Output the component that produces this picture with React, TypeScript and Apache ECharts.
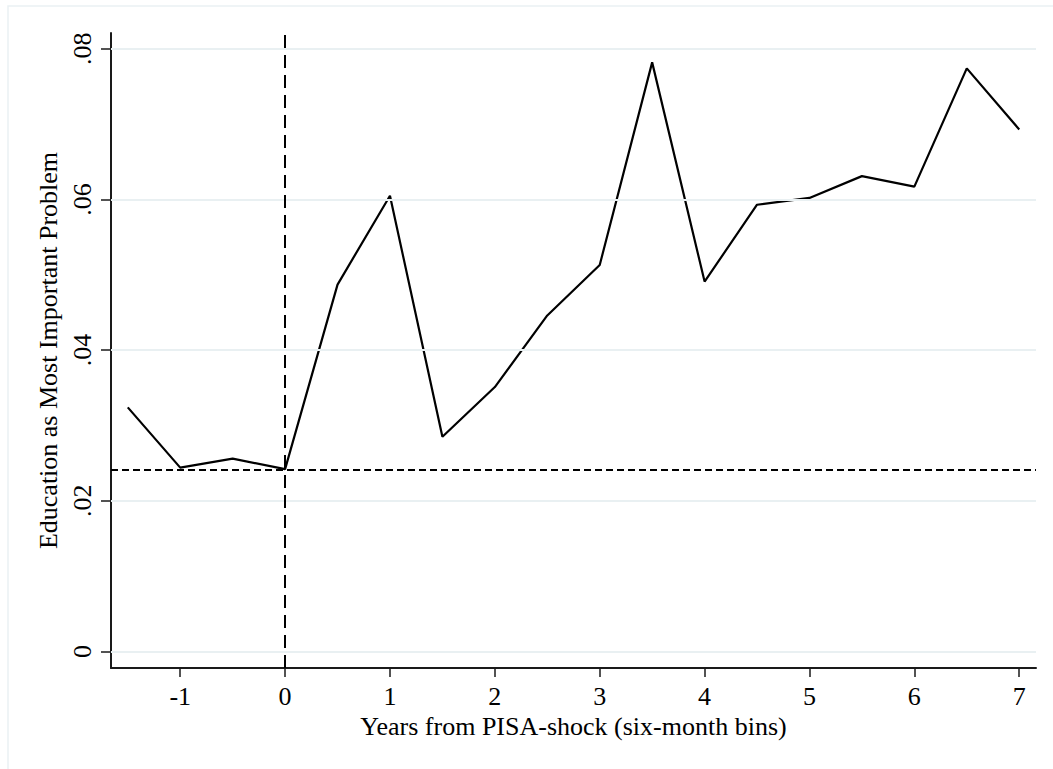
import React, { useEffect, useRef } from "react";
import * as echarts from "echarts";

const xValues = [-1.5, -1, -0.5, 0, 0.5, 1, 1.5, 2, 2.5, 3, 3.5, 4, 4.5, 5, 5.5, 6, 6.5, 7];
const eduShare = [
  0.0324, 0.0244, 0.0256, 0.0242, 0.0487, 0.0605, 0.0285, 0.0351, 0.0446, 0.0513,
  0.0782, 0.0491, 0.0593, 0.0602, 0.0631, 0.0617, 0.0774, 0.0693,
];
const baselineValue = 0.0241;
const shockX = 0;
const xTicks = [-1, 0, 1, 2, 3, 4, 5, 6, 7];
const yTicks = [0, 0.02, 0.04, 0.06, 0.08];
const xTitle = "Years from PISA-shock (six-month bins)";
const yTitle = "Education as Most Important Problem";

const FONT = '"Liberation Serif", "Times New Roman", serif';

export default function App() {
  const ref = useRef<HTMLDivElement>(null);
  useEffect(() => {
    if (!ref.current) return;
    const chart = echarts.init(ref.current, null, { renderer: "svg" });
    const axisColor = "#1a1a1a";
    chart.setOption({
      animation: false,
      backgroundColor: "#ffffff",
      textStyle: { fontFamily: FONT },
      graphic: [
        {
          type: "rect",
          shape: { x: 8, y: 6, width: 1200, height: 900 },
          style: { fill: "none", stroke: "#eaf1f3", lineWidth: 1.5 },
          silent: true,
          z: -10,
        },
      ],
      grid: { left: 111, right: 17, top: 33, bottom: 101, containLabel: false },
      xAxis: {
        type: "value",
        min: -1.66,
        max: 7.16,
        name: xTitle,
        nameLocation: "middle",
        nameGap: 40,
        nameTextStyle: { fontFamily: FONT, fontSize: 26, color: "#000" },
        axisLine: { show: true, onZero: false, lineStyle: { color: axisColor, width: 2 } },
        axisTick: {
          show: true,
          length: 9,
          lineStyle: { color: axisColor, width: 1.5 },
          customValues: xTicks,
        },
        axisLabel: {
          customValues: xTicks,
          fontFamily: FONT,
          fontSize: 26,
          color: "#000",
          margin: 15,
          formatter: (v: number) => String(v),
        },
        splitLine: { show: false },
      },
      yAxis: {
        type: "value",
        min: -0.0022,
        max: 0.0821,
        name: yTitle,
        nameLocation: "middle",
        nameRotate: 90,
        nameGap: 45,
        nameTextStyle: { fontFamily: FONT, fontSize: 26, color: "#000" },
        axisLine: { show: true, onZero: false, lineStyle: { color: axisColor, width: 2 } },
        axisTick: {
          show: true,
          length: 10,
          lineStyle: { color: axisColor, width: 1.5 },
          customValues: yTicks,
        },
        axisLabel: {
          customValues: yTicks,
          rotate: 90,
          fontFamily: FONT,
          fontSize: 26,
          color: "#000",
          margin: 16,
          formatter: (v: number) => (v === 0 ? "0" : String(v).replace(/^0/, "")),
        },
        splitLine: { show: false },
      },
      series: [
        {
          type: "line",
          data: [],
          silent: true,
          z: 1,
          markLine: {
            silent: true,
            symbol: "none",
            precision: 6,
            label: { show: false },
            lineStyle: { color: "#e9f0f2", width: 2, type: "solid" },
            data: yTicks.map((v) => ({ yAxis: v })),
          },
        },
        {
          type: "line",
          data: [],
          silent: true,
          z: 3,
          markLine: {
            silent: true,
            symbol: "none",
            precision: 6,
            label: { show: false },
            data: [
              { xAxis: shockX, lineStyle: { color: "#000", width: 2, type: [13, 7] } },
              { yAxis: baselineValue, lineStyle: { color: "#000", width: 2, type: [7, 4] } },
            ],
          },
        },
        {
          type: "line",
          data: xValues.map((x, i) => [x, eduShare[i]]),
          showSymbol: false,
          symbol: "none",
          z: 4,
          lineStyle: { color: "#000", width: 2.2 },
        },
      ],
    });
    return () => chart.dispose();
  }, []);
  return (
    <div
      ref={ref}
      style={{ position: "absolute", left: 0, top: 0, width: 1053, height: 769 }}
    />
  );
}
